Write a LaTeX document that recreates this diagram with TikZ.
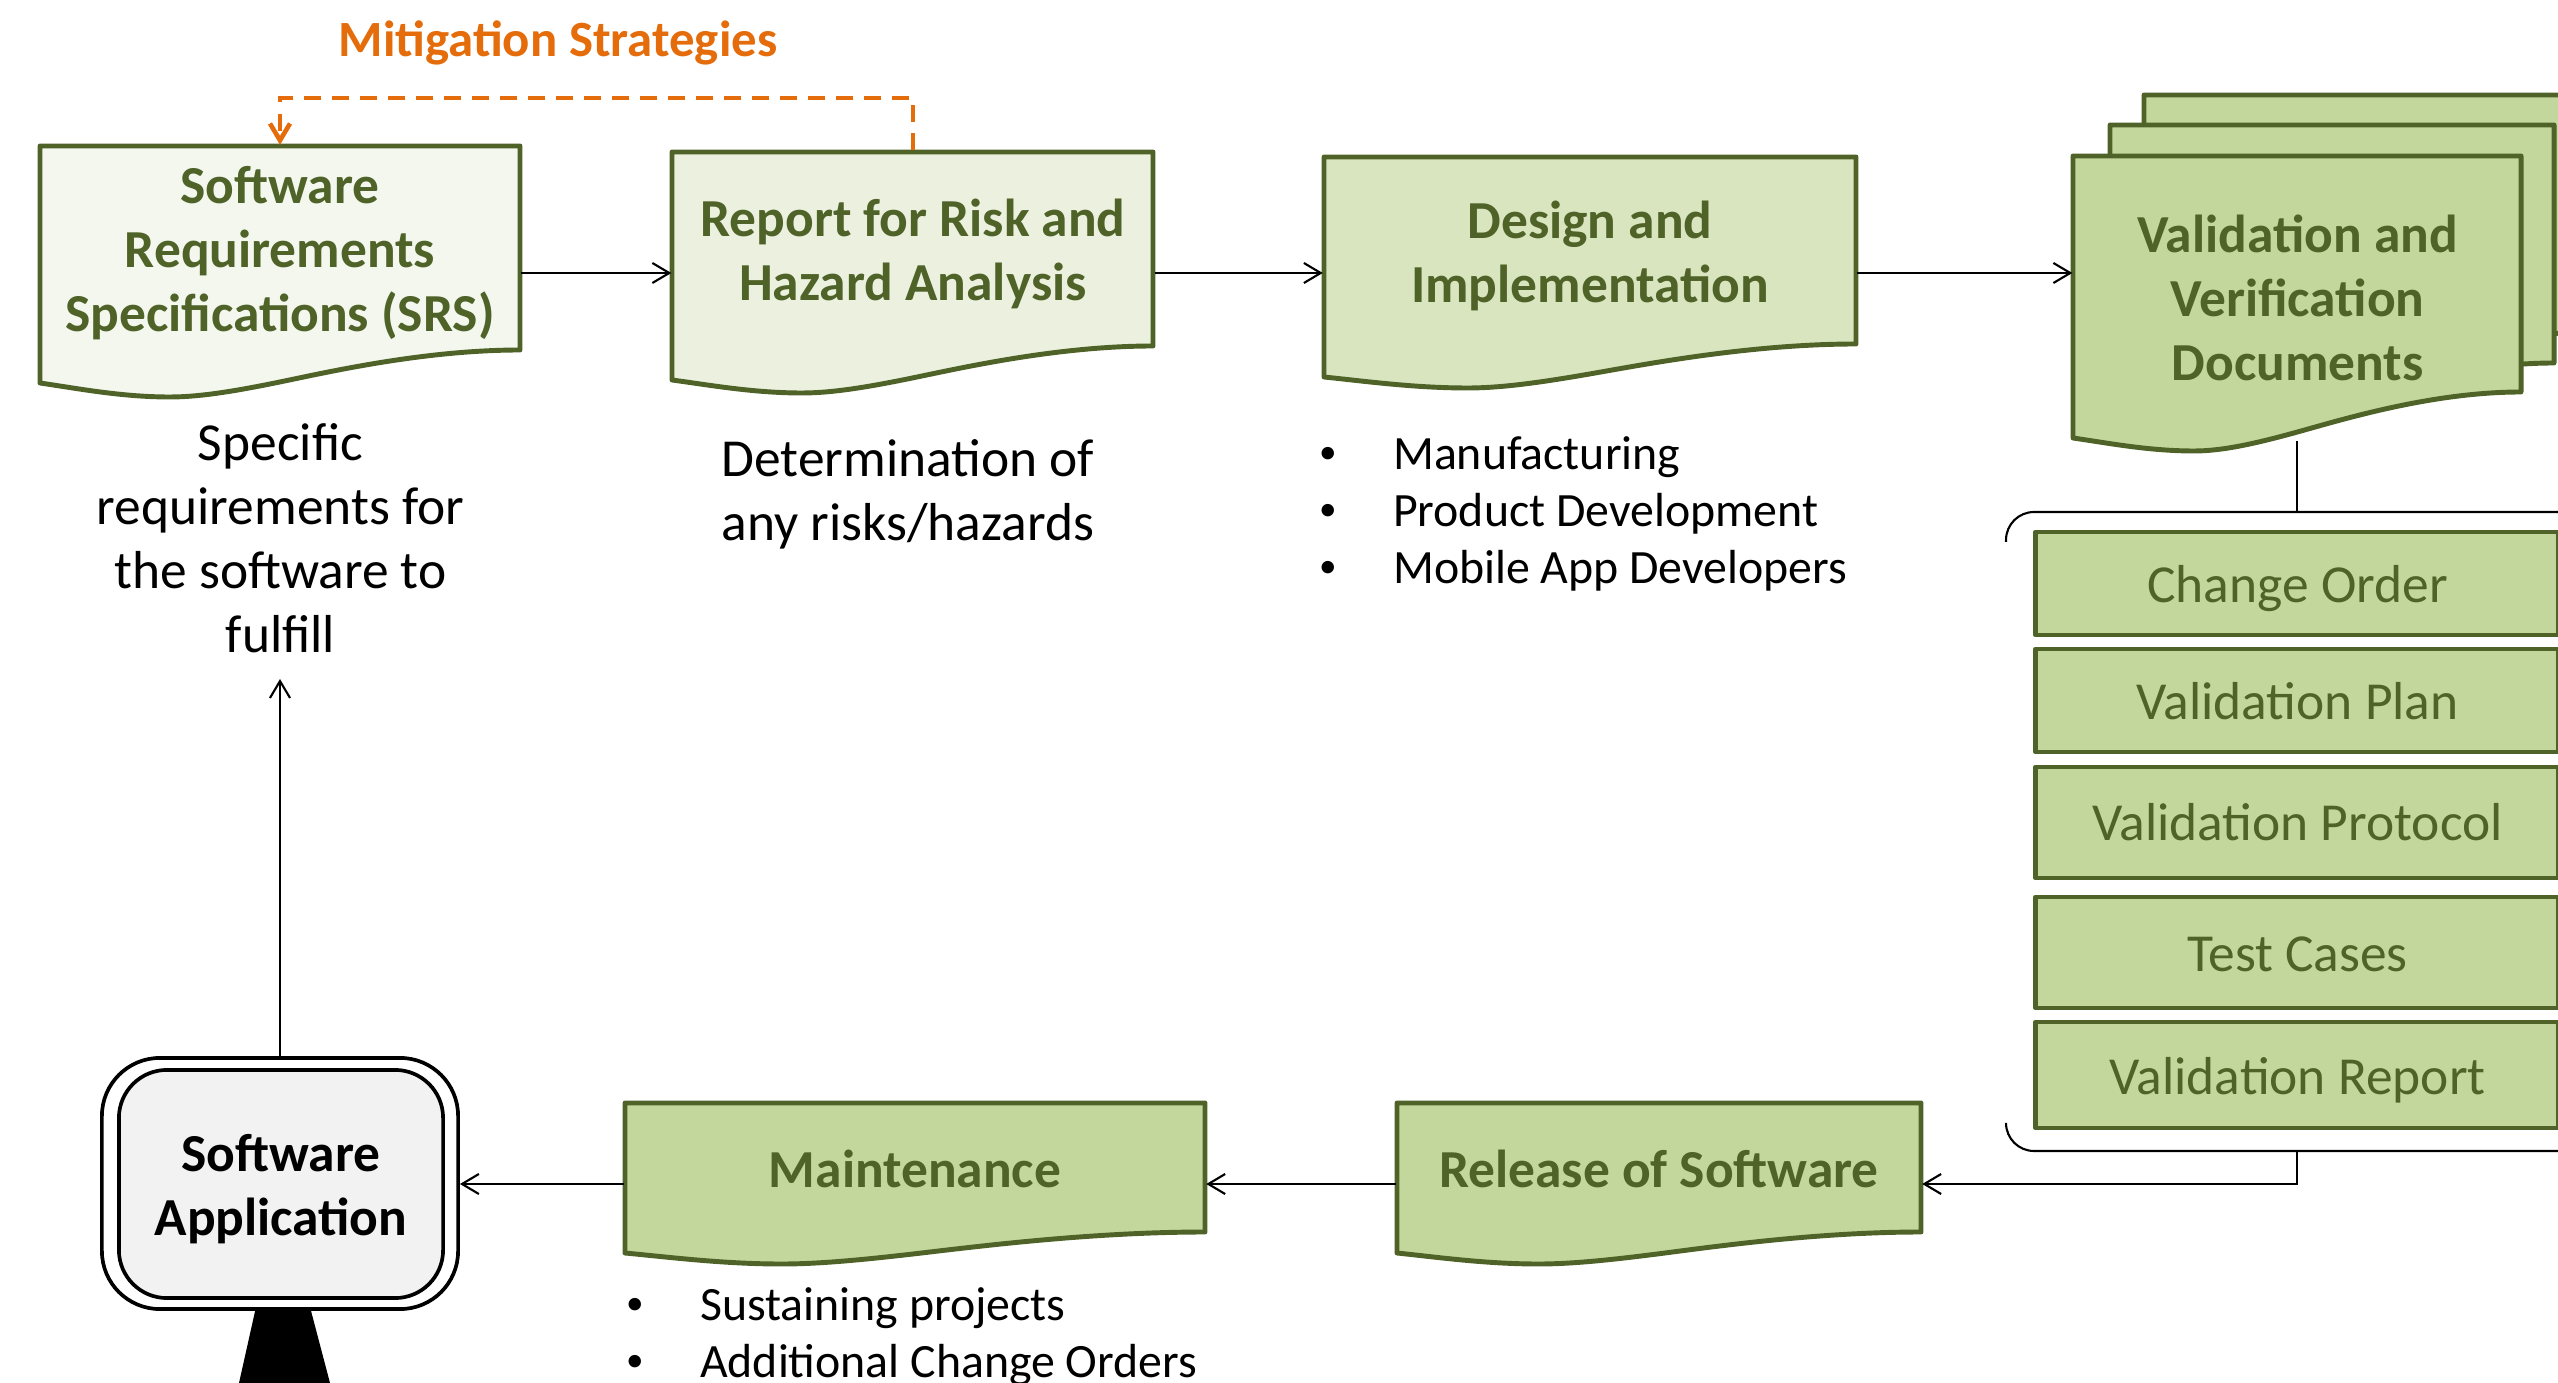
\documentclass[tikz,border=0pt]{standalone}
\usepackage{fontspec}
\setmainfont{Carlito}
\usetikzlibrary{arrows.meta}

\definecolor{olivedark}{HTML}{4F6228}
\definecolor{olivefill}{HTML}{C3D69B}
\definecolor{olivemid}{HTML}{D9E5BF}
\definecolor{olivepale}{HTML}{EBF1DE}
\definecolor{olivewash}{HTML}{F3F7EE}
\definecolor{mitorange}{HTML}{E46C0A}

\tikzset{
  docline/.style={draw=olivedark, line width=1.4pt, line join=round},
  doctext/.style={inner sep=0pt, align=center, text=olivedark,
    font=\fontsize{15.2}{18.2}\selectfont\bfseries},
  listbox/.style={docline, fill=olivefill, inner sep=0pt, minimum width=5.22cm},
  listtext/.style={inner sep=0pt, text=olivedark, font=\fontsize{15.2}{18.2}\selectfont},
  notetext/.style={inner sep=0pt, align=center, font=\fontsize{15.2}{18.2}\selectfont},
  bullets/.style={inner sep=0pt, align=left, font=\fontsize{13.6}{16.2}\selectfont},
}

\newcommand{\docpath}[7]{%
  \pgfmathsetmacro{\docw}{#3-#2}
  \pgfmathsetmacro{\docd}{#6-#5}
  \draw[docline, fill=#1] (#2,#4) -- (#3,#4) -- (#3,#5)
    .. controls ({#2+.8*\docw},#5) and ({#2+.6*\docw},{#5+.47*\docd}) .. ({#2+.5*\docw},{#5+.68*\docd})
    .. controls ({#2+.4*\docw},{#5+.89*\docd}) and ({#2+.33*\docw},#6) .. ({#2+.27*\docw},#6)
    .. controls ({#2+.17*\docw},#6) and ({#2+.08*\docw},{#7+.4*(#6-#7)}) .. (#2,#7) -- cycle;
}
\newcommand{\bulletgap}{\makebox[.74cm][l]{\raisebox{1.7pt}{\fontsize{10}{10}\selectfont\textbullet}}}

\begin{document}
\begin{tikzpicture}[x=.01cm, y=-.01cm, >={Straight Barb[length=4.8pt,width=5.7pt]}, line width=.6pt]
  \path[use as bounding box] (0,0) rectangle (2558,1383);
  \clip (0,0) rectangle (2558,1383);

  \docpath{olivewash}{40}{520}{146}{350}{397}{383}
  \docpath{olivepale}{672}{1153}{152}{346}{393}{380}
  \docpath{olivemid}{1324}{1856}{157}{344}{388}{377}
  \docpath{olivefill}{2144}{2592}{95}{332}{391}{378}
  \docpath{olivefill}{2110}{2554}{125}{363}{422}{409}
  \docpath{olivefill}{2073}{2521}{156}{392}{451}{438}
  \docpath{olivefill}{625}{1205}{1103}{1232}{1264}{1253}
  \docpath{olivefill}{1397}{1921}{1103}{1232}{1264}{1253}

  \node[doctext, minimum width=4.8cm, minimum height=2.14cm] (srs) at (280,253)
    {Software\\Requirements\\Specifications (SRS)};
  \node[doctext, minimum width=4.81cm, minimum height=2.06cm] (report) at (913,254)
    {Report for Risk and\\Hazard Analysis};
  \node[doctext, minimum width=5.32cm, minimum height=2cm] (design) at (1590,256)
    {Design and\\Implementation};
  \node[doctext, minimum width=4.48cm, minimum height=2.84cm] (valdocs) at (2297.5,298)
    {Validation and\\Verification\\Documents};
  \node[doctext, minimum width=5.8cm, minimum height=1.29cm] (maint) at (915,1169)
    {Maintenance};
  \node[doctext, minimum width=5.24cm, minimum height=1.29cm] (release) at (1659,1169)
    {Release of Software};

  \node[text=mitorange, inner sep=0pt, font=\fontsize{14.45}{18.2}\selectfont\bfseries] (mitlabel) at (558,43)
    {Mitigation Strategies};
  \node[notetext] (srsnote) at (280.5,538) {Specific\\requirements for\\the software to\\fulfill};
  \node[notetext] (reportnote) at (908,494) {Determination of\\any risks/hazards};
  \node[bullets, anchor=north west] (designlist) at (1318,436)
    {\bulletgap Manufacturing\\\bulletgap Product Development\\\bulletgap Mobile App Developers};
  \node[bullets, anchor=north west] (maintlist) at (625,1287)
    {\bulletgap Sustaining projects\\\bulletgap Additional Change Orders};

  \foreach \nm/\lab/\ya/\yb/\dy in {change/Change Order/532/635/5, plan/Validation Plan/649/752/1,
      protocol/Validation Protocol/767/878/0, cases/Test Cases/897/1008/1.5, valreport/Validation Report/1022/1128/5} {
    \pgfmathsetmacro{\boxh}{(\yb-\ya)*.01}
    \pgfmathsetmacro{\boxy}{(\ya+\yb)/2}
    \node[listbox, minimum height=\boxh cm] (\nm) at (2297,\boxy) {};
    \node[listtext] (\nm text) at (2297.5,\boxy+\dy) {\lab};
  }

  \node[draw, line width=1.05pt, rounded corners=.58cm, minimum width=3.56cm, minimum height=2.51cm] (appframe) at (280,1183.5) {};
  \node[draw, line width=1.05pt, fill=black!5, rounded corners=.48cm, minimum width=3.24cm, minimum height=2.28cm] (appscreen) at (281,1184) {};
  \node[inner sep=0pt, align=center, font=\fontsize{15.2}{18.2}\selectfont\bfseries] (app) at (281,1189) {Software\\Application};
  \fill[black] (256,1307) -- (310,1307) -- (330,1383) -- (239,1383) -- cycle;

  \coordinate (toprow) at (0,273);
  \coordinate (lowrow) at (0,1184);
  \coordinate (dashtop) at (0,98);
  \coordinate (srsend) at (280,679);
  \coordinate (brtop) at (2297,512);
  \coordinate (brbot) at (2297,1151);

  \foreach \a/\b in {srs/report, report/design, design/valdocs}
    \draw[->] (\a.east |- toprow) -- (\b.west |- toprow);
  \draw[->] (maint.west |- lowrow) -- (appframe.east |- lowrow);
  \draw[->] (release.west |- lowrow) -- (maint.east |- lowrow);
  \draw[->] (brbot) -- (brbot |- lowrow) -- (release.east |- lowrow);
  \draw[->] (appframe.north) -- (srsend);
  \draw (brtop |- valdocs.south) -- (brtop);
  \draw[rounded corners=.28cm] (2600,512) -- (2006,512) -- (2006,542);
  \draw[rounded corners=.28cm] (2600,1151) -- (2006,1151) -- (2006,1123);

  \draw[mitorange, line width=1.3pt, dash pattern=on .17cm off .11cm, ->] (report.north) -- (report.north |- dashtop)
    -- (srs.north |- dashtop) -- (srs.north);
\end{tikzpicture}
\end{document}
